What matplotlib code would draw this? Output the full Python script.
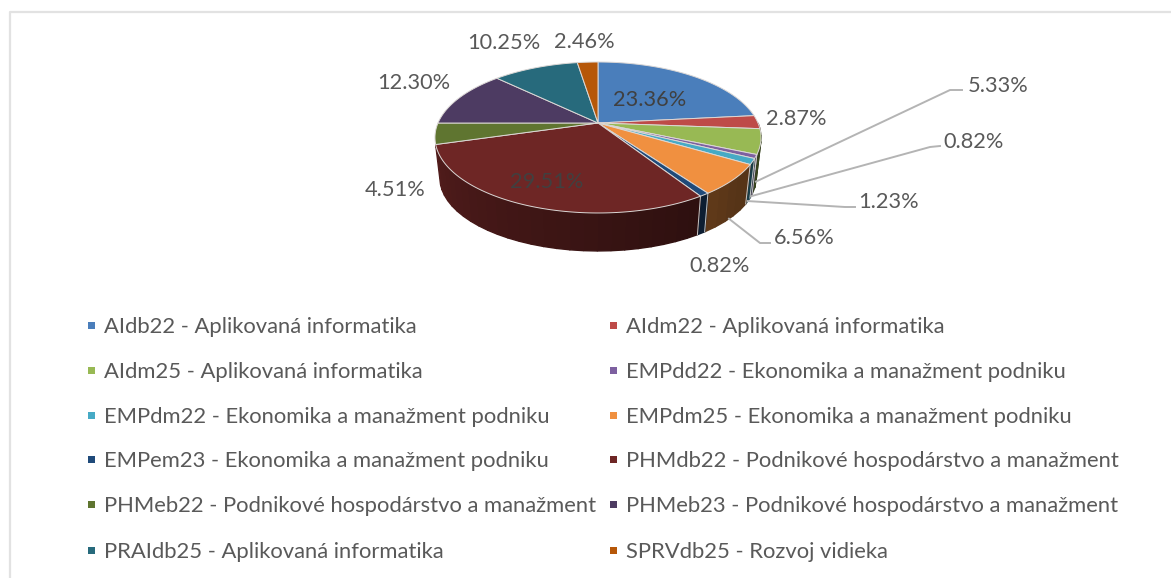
import numpy as np
import matplotlib
matplotlib.use("Agg")
import matplotlib.pyplot as plt
from matplotlib.colors import to_rgb
from matplotlib.patches import Polygon, Rectangle

plt.rcParams['font.family'] = ['Lato', 'DejaVu Sans']


# =========================
# DATA
# =========================

programs = [
    "AIdb22 - Aplikovaná informatika",
    "AIdm22 - Aplikovaná informatika",
    "AIdm25 - Aplikovaná informatika",
    "EMPdd22 - Ekonomika a manažment podniku",
    "EMPdm22 - Ekonomika a manažment podniku",
    "EMPdm25 - Ekonomika a manažment podniku",
    "EMPem23 - Ekonomika a manažment podniku",
    "PHMdb22 - Podnikové hospodárstvo a manažment",
    "PHMeb22 - Podnikové hospodárstvo a manažment",
    "PHMeb23 - Podnikové hospodárstvo a manažment",
    "PRAIdb25 - Aplikovaná informatika",
    "SPRVdb25 - Rozvoj vidieka",
]

shares = [23.36, 2.87, 5.33, 0.82, 1.23, 6.56, 0.82, 29.51, 4.51, 12.30, 10.25, 2.46]

colors = ["#4a7ebb", "#be4b48", "#98b954", "#7d60a0", "#46aac5", "#f09040",
          "#1f4a7a", "#6e2625", "#5f7530", "#4d3b62", "#276a7c", "#b65708"]


# =========================
# LAYOUT (pixels)
# =========================

W, H = 1171, 578
CX, CY = 598, 123
RX, RY = 160, 72.7
PERSP = 0.192
BASE_SCALE = 0.97
BASE_CY = 163.7

label_xy = [(650, 100), (796, 119), (998, 86), (974, 142), (888, 202), (804, 238),
            (720, 266), (547, 182), (395, 190), (414, 83), (504, 43), (584, 42)]

# leader line elbows, by slice index
leaders = {
    2: [(950, 90), (962, 90)],
    3: [(930, 147), (940, 146)],
    4: [(845, 207), (855, 207)],
    5: [(760, 243), (770, 243)],
}

legend_rows = [327, 372, 417, 461, 506, 552]
legend_cols = [88, 610]

# slices with a visible outer wall
wall_slices = range(8)

TEXT = "#595959"


# =========================
# GEOMETRY
# =========================

def top_point(ang):
    # ang is clockwise from 12 o'clock, simple perspective on a unit circle
    X, Y = np.sin(ang), np.cos(ang)
    w = 1 + PERSP * Y
    return CX + RX * X / w, CY - RY * Y / w


def base_point(ang):
    x, y = top_point(ang)
    return CX + (x - CX) * BASE_SCALE, BASE_CY + (y - CY) * BASE_SCALE


def wall_shade(ang):
    # left side of the wall is lighter than the right side
    deg = np.degrees(ang)
    return 0.36 + 0.42 * np.clip((deg - 130) / 140, 0, 1)


fig = plt.figure(figsize=(W / 100, H / 100), dpi=100)
ax = fig.add_axes([0, 0, 1, 1])
ax.set_xlim(0, W)
ax.set_ylim(H, 0)
ax.axis('off')

# frame of the original chart
ax.plot([9.5, 9.5, W], [H, 11.5, 11.5], color="#e2e2e2", lw=1.6, solid_capstyle='butt')

edges = np.concatenate([[0], np.cumsum(shares)]) / sum(shares) * 2 * np.pi


# =========================
# WALLS
# =========================

for i in wall_slices:
    a0, a1 = max(edges[i], np.pi / 2), min(edges[i + 1], 3 * np.pi / 2)
    if a1 <= a0:
        continue
    n = max(1, int(np.degrees(a1 - a0) / 4))
    steps = np.linspace(a0, a1, n + 1)
    rgb = np.array(to_rgb(colors[i]))
    for s0, s1 in zip(steps[:-1], steps[1:]):
        pts = [top_point(s0), top_point(s1), base_point(s1), base_point(s0)]
        shade = rgb * wall_shade((s0 + s1) / 2)
        ax.add_patch(Polygon(pts, closed=True, facecolor=shade, edgecolor=shade, lw=1.0, zorder=2))
    if edges[i] > np.pi / 2:
        xs, ys = zip(top_point(edges[i]), base_point(edges[i]))
        ax.plot(xs, ys, color="#c8c8c8", lw=0.7, zorder=3)


# =========================
# TOP FACE
# =========================

for i, color in enumerate(colors):
    n = max(2, int(np.degrees(edges[i + 1] - edges[i])))
    x, y = top_point(np.linspace(edges[i], edges[i + 1], n + 1))
    pts = np.column_stack([np.r_[CX, x], np.r_[CY, y]])
    ax.add_patch(Polygon(pts, closed=True, facecolor=color, edgecolor="#dcd8d6", lw=0.7, zorder=4))


# =========================
# LABELS AND LEADERS
# =========================

for i, share in enumerate(shares):
    lx, ly = label_xy[i]
    ink = "#404040" if i in (0, 7) else TEXT
    ax.text(lx, ly, f"{share:.2f}%", ha='center', va='center', fontsize=15.7,
            color=ink, zorder=6)

for i, elbow in leaders.items():
    start = base_point((edges[i] + edges[i + 1]) / 2)
    xs, ys = zip(start, *elbow)
    ax.plot(xs, ys, color="#b4b4b4", lw=1.4, zorder=5)


# =========================
# LEGEND
# =========================

for i, (name, color) in enumerate(zip(programs, colors)):
    ly = legend_rows[i // 2]
    lx = legend_cols[i % 2]
    ax.add_patch(Rectangle((lx, ly - 5), 7, 7, facecolor=color, edgecolor='none'))
    ax.text(lx + 16, ly, name, ha='left', va='center', fontsize=15.8, color=TEXT)

fig.savefig("out.png", dpi=100)
